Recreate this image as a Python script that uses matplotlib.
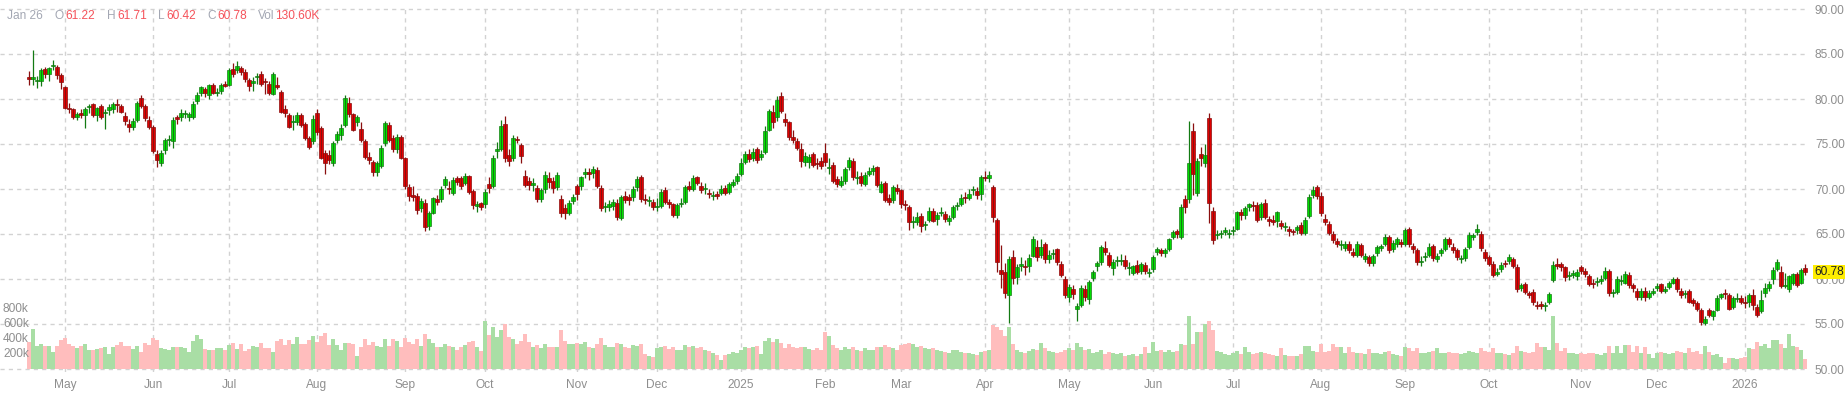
import numpy as np
import matplotlib
matplotlib.use("Agg")
import matplotlib.pyplot as plt
import matplotlib.transforms as mtransforms

plt.rcParams['font.family'] = ['Liberation Sans', 'DejaVu Sans']

# daily candles, Apr 18 2024 .. Jan 26 2026 (one row per month)
opens = [
    82.4, 82.2, 82.0, 82.0, 83.3, 82.8, 83.7, 83.6, 82.7,
    81.3, 79.0, 78.9, 78.0, 78.5, 78.2, 79.1, 79.4, 78.2, 79.2, 78.4, 78.8, 78.9, 79.4, 79.2, 78.1, 77.2, 76.9, 77.7, 80.1, 79.2, 77.7,
    76.9, 73.9, 72.9, 74.3, 75.4, 75.3, 78.0, 78.0, 78.3, 78.0, 78.0, 79.8, 80.7, 81.1, 80.4, 81.6, 80.7, 80.9, 81.7,
    81.6, 83.3, 83.2, 83.4, 83.0, 82.1, 81.8, 82.4, 82.8, 82.0, 81.7, 80.6, 81.6, 80.8, 78.9, 78.2, 77.4, 77.4, 78.2, 77.2, 75.7, 75.3,
    78.4, 76.8, 74.0, 73.8, 72.9, 75.4, 76.0, 77.1, 79.6, 78.3, 77.5, 76.7, 75.3, 73.6, 73.0, 71.9, 72.6, 75.1, 77.1, 75.7, 74.4, 75.8,
    73.4, 70.2, 69.3, 69.2, 67.9, 68.5, 65.9, 67.3, 68.9, 68.9, 70.4, 70.1, 69.6, 71.2, 71.2, 70.7, 71.4, 69.8, 68.1, 68.4,
    68.3, 70.5, 70.3, 74.2, 74.4, 77.2, 73.8, 73.4, 75.6, 74.9, 71.4, 70.9, 70.5, 70.1, 68.9, 70.0, 71.2, 70.9, 70.2, 68.9, 67.9, 67.3, 68.7,
    70.3, 70.3, 71.7, 71.9, 71.8, 72.1, 70.1, 68.0, 68.0, 68.1, 68.5, 66.8, 69.2, 69.1, 69.1, 70.2, 71.3, 68.9, 68.7, 68.6,
    68.0, 68.1, 69.9, 68.6, 68.3, 67.1, 68.3, 68.6, 70.3, 70.0, 71.3, 70.3, 70.0, 69.6, 69.2, 69.4, 69.6, 70.1, 69.7, 70.5, 70.9,
    71.7, 73.0, 73.9, 73.4, 74.4, 73.6, 74.1, 76.6, 78.6, 78.0, 80.3, 77.8, 77.4, 75.8, 75.3, 74.4, 73.0, 73.0, 73.9, 72.9, 73.1,
    74.0, 72.3, 72.7, 71.1, 70.5, 70.9, 72.4, 73.1, 71.2, 71.4, 70.6, 71.7, 72.0, 72.4, 69.7, 70.7, 69.0, 68.8, 70.1,
    69.9, 68.3, 68.0, 66.3, 66.3, 67.0, 66.0, 66.6, 67.6, 66.7, 67.3, 67.2, 66.5, 66.9, 68.1, 68.3, 69.1, 69.0, 69.9, 69.8, 69.4,
    71.3, 71.2, 70.2, 66.6, 61.0, 60.8, 58.2, 62.5, 60.2, 61.5, 61.5, 61.5, 62.6, 63.5, 62.7, 63.9, 62.2, 62.8, 63.3, 61.7, 60.0,
    58.0, 58.9, 56.7, 57.1, 58.9, 57.8, 60.1, 61.4, 61.9, 63.5, 62.7, 61.2, 62.0, 62.0, 62.1, 61.2, 60.7, 61.6, 60.9, 61.6, 60.7,
    61.1, 63.0, 63.2, 62.9, 63.3, 64.7, 65.3, 64.7, 68.9, 68.9, 76.4, 69.6, 73.9, 72.9, 77.9, 67.6, 64.9, 65.0, 65.2, 65.0,
    65.3, 65.6, 67.4, 67.1, 68.0, 68.2, 68.2, 66.9, 68.5, 66.7, 66.6, 66.5, 66.2, 65.8, 65.6, 65.3, 65.4, 66.0, 65.1, 67.0, 69.3, 70.2,
    69.2, 66.7, 66.1, 65.0, 64.2, 63.8, 63.4, 63.9, 63.0, 62.7, 63.8, 62.2, 62.4, 61.8, 62.9, 63.5, 63.9, 64.7, 63.3, 63.9, 64.1,
    63.9, 65.5, 63.7, 63.2, 61.9, 62.4, 62.7, 63.7, 62.2, 62.9, 63.3, 64.4, 63.6, 63.2, 62.2, 62.3, 63.6, 64.7, 65.2, 65.0, 63.0,
    62.4, 61.7, 60.6, 61.1, 61.8, 62.0, 62.2, 61.3, 59.0, 59.4, 58.4, 58.6, 57.1, 57.2, 57.0, 57.4, 59.9, 61.7, 61.7, 61.3, 60.3, 60.5, 60.3,
    61.3, 60.9, 60.3, 59.6, 59.7, 59.8, 60.1, 60.9, 58.4, 58.6, 59.8, 59.6, 60.5, 59.3, 58.7, 58.0, 58.7, 58.0, 58.5,
    59.0, 59.4, 58.7, 59.1, 59.6, 60.0, 58.7, 58.3, 58.7, 57.7, 57.3, 56.6, 55.1, 56.6, 55.9, 56.6, 58.0, 58.4, 58.2, 56.9, 57.8, 57.9,
    57.4, 57.4, 58.2, 56.9, 56.4, 58.4, 59.0, 60.0, 61.1, 60.8, 59.2, 58.9, 59.6, 60.6, 59.6, 61.22,
]
highs = [
    83.1, 85.5, 82.6, 83.4, 83.6, 83.6, 84.3, 83.8, 82.9,
    81.5, 79.6, 79.0, 78.6, 78.9, 79.1, 79.4, 79.6, 79.1, 79.4, 78.9, 79.4, 79.7, 80.0, 79.4, 78.6, 77.8, 77.9, 79.8, 80.5, 79.4, 78.1,
    77.1, 74.3, 74.3, 75.7, 76.0, 78.0, 78.2, 78.9, 78.8, 78.6, 79.8, 80.8, 81.5, 81.3, 81.7, 81.8, 81.2, 81.8, 82.0,
    83.5, 84.0, 84.2, 83.7, 83.3, 82.3, 82.4, 82.9, 83.1, 82.3, 82.0, 83.0, 82.5, 81.0, 79.3, 78.4, 78.2, 78.6, 78.4, 77.5, 75.9, 78.2,
    78.9, 77.0, 74.3, 74.3, 75.3, 76.5, 77.2, 80.4, 80.2, 78.5, 78.2, 77.4, 75.6, 74.1, 73.2, 73.1, 74.9, 77.6, 77.4, 76.0, 76.1, 76.0,
    73.6, 70.6, 70.3, 69.6, 69.0, 68.9, 67.6, 69.1, 69.3, 70.3, 71.5, 70.9, 71.3, 71.5, 71.4, 71.8, 71.6, 70.0, 68.7, 68.6,
    70.0, 71.3, 73.8, 75.2, 77.7, 78.1, 74.4, 76.0, 75.9, 75.1, 72.1, 71.3, 71.2, 70.5, 70.1, 72.0, 71.9, 71.3, 71.9, 69.3, 68.3, 68.8, 69.5,
    70.6, 71.5, 72.3, 72.3, 72.6, 72.4, 70.4, 68.6, 68.8, 68.9, 68.9, 69.3, 69.8, 69.5, 70.3, 71.5, 71.6, 69.4, 69.2, 68.9,
    69.0, 70.0, 70.2, 68.9, 68.5, 68.5, 69.0, 70.5, 70.9, 71.6, 71.5, 70.8, 70.7, 70.0, 69.8, 69.8, 70.4, 70.5, 70.8, 71.1, 71.8,
    73.4, 74.2, 74.5, 74.6, 74.7, 74.3, 77.0, 78.9, 79.3, 80.3, 80.8, 78.4, 77.6, 76.6, 75.7, 75.1, 74.1, 73.9, 74.1, 73.5, 73.6,
    75.1, 73.4, 73.0, 71.5, 71.4, 72.4, 73.6, 73.4, 72.0, 71.9, 71.9, 72.4, 72.7, 72.6, 70.9, 70.9, 69.4, 70.4, 70.6,
    70.0, 68.8, 68.2, 67.0, 67.4, 67.3, 66.5, 68.0, 67.9, 67.4, 68.0, 67.6, 67.1, 68.2, 68.6, 69.4, 69.7, 70.0, 70.3, 70.2, 71.6,
    72.0, 72.0, 70.4, 66.8, 63.8, 61.8, 62.6, 63.2, 61.7, 62.4, 62.1, 62.8, 64.8, 64.3, 64.4, 64.1, 63.2, 63.3, 63.5, 62.0, 60.3,
    59.4, 59.3, 57.3, 59.3, 59.3, 59.9, 61.0, 62.0, 63.8, 64.2, 63.0, 62.2, 62.6, 62.8, 62.7, 61.9, 61.6, 62.1, 61.9, 61.9, 61.2,
    62.7, 63.6, 63.5, 63.5, 64.6, 65.5, 65.6, 68.3, 69.3, 77.6, 77.3, 73.5, 74.7, 75.0, 78.4, 68.0, 65.4, 65.5, 65.8, 65.6,
    65.9, 67.6, 67.8, 68.1, 68.5, 68.7, 68.6, 68.6, 68.9, 67.0, 67.1, 67.6, 66.6, 66.3, 65.9, 65.6, 66.0, 66.3, 66.9, 69.4, 70.3, 70.5,
    69.7, 67.2, 66.4, 65.3, 64.6, 64.3, 64.2, 64.2, 63.4, 64.2, 64.0, 62.9, 62.7, 62.8, 63.8, 63.9, 65.0, 64.9, 64.3, 64.7, 64.4,
    65.7, 65.8, 64.0, 63.4, 62.6, 63.0, 64.0, 63.9, 62.9, 63.5, 64.7, 64.7, 64.0, 63.4, 62.7, 63.6, 65.2, 65.1, 66.1, 65.3, 63.3,
    62.7, 62.0, 61.2, 61.9, 62.1, 62.8, 62.5, 61.7, 59.6, 59.7, 58.7, 58.9, 57.6, 57.6, 57.5, 58.6, 62.0, 62.3, 61.9, 61.5, 60.9, 61.0, 61.1,
    61.6, 61.2, 60.6, 60.0, 60.2, 60.4, 61.3, 61.1, 58.9, 60.3, 60.4, 60.9, 60.8, 59.6, 59.0, 59.0, 59.1, 58.8, 59.0,
    59.6, 59.6, 59.2, 59.8, 60.2, 60.2, 59.0, 58.8, 58.9, 57.9, 57.6, 56.8, 55.9, 56.8, 56.6, 58.2, 58.4, 58.9, 58.5, 58.1, 58.4, 58.2,
    58.1, 58.5, 58.9, 57.2, 58.8, 59.6, 59.8, 61.3, 62.2, 61.4, 60.7, 60.4, 60.7, 60.8, 61.2, 61.71,
]
lows = [
    81.6, 81.6, 81.2, 81.4, 82.3, 82.0, 83.2, 82.2, 81.1,
    78.9, 78.4, 77.8, 77.7, 77.9, 76.8, 78.5, 78.0, 77.6, 77.8, 76.7, 78.2, 78.5, 78.6, 78.4, 77.1, 76.3, 76.6, 77.4, 79.0, 77.6, 76.7,
    74.0, 72.5, 72.6, 73.9, 74.8, 74.6, 77.2, 77.6, 77.9, 77.6, 77.8, 79.4, 80.3, 80.2, 80.0, 80.6, 80.3, 80.6, 81.3,
    81.4, 82.4, 82.9, 82.7, 81.9, 80.9, 80.9, 81.7, 81.5, 80.6, 80.4, 80.4, 81.1, 78.4, 78.0, 76.8, 76.6, 77.1, 76.9, 75.5, 74.4, 75.0,
    76.0, 73.3, 71.7, 72.8, 72.6, 75.1, 75.5, 76.9, 78.0, 76.4, 77.0, 75.2, 73.3, 72.8, 71.5, 71.5, 72.3, 74.8, 75.2, 74.1, 74.0, 73.3,
    70.0, 68.7, 68.7, 67.2, 67.5, 65.3, 65.5, 67.2, 68.2, 68.6, 70.1, 69.5, 69.3, 70.5, 70.0, 70.4, 69.5, 67.8, 67.5, 67.7,
    67.9, 69.6, 70.1, 73.4, 74.2, 73.0, 72.6, 73.1, 75.1, 72.9, 70.2, 69.9, 69.8, 68.6, 68.6, 69.6, 70.1, 69.6, 69.9, 66.9, 66.7, 67.1, 68.3,
    68.8, 69.9, 71.2, 71.0, 71.2, 70.1, 67.6, 67.4, 67.6, 67.7, 66.6, 66.6, 68.5, 68.2, 68.7, 69.8, 68.6, 68.3, 68.1, 67.7,
    67.6, 67.9, 68.3, 67.9, 66.9, 66.8, 68.0, 68.3, 69.8, 69.8, 70.4, 69.6, 69.4, 69.0, 68.8, 68.9, 69.3, 69.3, 69.5, 70.2, 70.6,
    71.5, 72.8, 73.0, 73.1, 72.9, 73.2, 73.9, 76.4, 76.8, 77.6, 78.5, 77.0, 75.5, 75.1, 74.3, 72.5, 72.6, 72.3, 72.5, 72.2, 72.2,
    72.6, 71.7, 70.7, 70.2, 70.2, 70.6, 72.1, 71.0, 70.6, 70.3, 70.3, 71.4, 71.6, 70.2, 69.6, 68.6, 68.2, 68.5, 69.4,
    67.9, 67.7, 65.5, 65.7, 66.0, 65.2, 65.4, 66.3, 66.3, 66.0, 67.0, 66.3, 66.0, 66.7, 67.7, 68.1, 68.5, 68.8, 69.3, 68.9, 68.8,
    70.9, 70.8, 66.3, 60.8, 59.0, 57.9, 55.1, 59.4, 59.4, 60.9, 60.5, 60.8, 62.4, 62.0, 62.3, 61.8, 61.8, 62.2, 61.6, 60.2, 57.9,
    57.5, 57.8, 55.3, 56.9, 57.6, 57.2, 59.8, 60.9, 61.6, 62.7, 61.3, 60.5, 61.5, 61.6, 61.1, 60.5, 60.4, 60.6, 60.6, 60.6, 60.2,
    60.8, 62.7, 62.6, 62.5, 63.1, 64.5, 64.6, 64.5, 67.3, 68.4, 69.3, 69.2, 72.6, 72.4, 66.2, 63.9, 64.4, 64.6, 64.9, 64.6,
    64.9, 65.4, 66.6, 66.7, 67.6, 67.6, 66.3, 66.6, 66.7, 65.9, 66.0, 65.8, 65.6, 65.3, 64.8, 64.9, 65.0, 64.9, 64.9, 66.8, 69.0, 68.9,
    67.0, 66.0, 64.9, 64.0, 63.6, 63.2, 63.1, 62.9, 62.4, 62.5, 62.5, 61.9, 61.5, 61.5, 62.6, 63.1, 63.7, 62.9, 63.0, 63.6, 63.6,
    63.7, 63.6, 62.9, 61.6, 61.5, 62.0, 62.5, 62.0, 61.9, 62.6, 63.1, 63.6, 62.9, 62.1, 61.8, 62.0, 63.3, 64.3, 64.9, 63.1, 62.0,
    61.5, 60.2, 60.3, 60.8, 61.3, 61.7, 61.2, 58.6, 58.7, 58.3, 57.9, 57.1, 56.7, 56.7, 56.4, 57.2, 59.7, 61.1, 60.9, 59.8, 59.9, 60.1, 59.9,
    60.6, 60.2, 59.2, 59.0, 59.2, 59.5, 59.9, 58.1, 58.0, 58.3, 59.3, 59.4, 59.0, 58.6, 57.7, 57.7, 57.6, 57.8, 58.2,
    58.7, 58.5, 58.4, 58.9, 59.4, 58.6, 57.9, 57.9, 57.3, 57.0, 56.4, 54.9, 54.9, 55.8, 55.5, 56.4, 57.8, 57.8, 56.6, 56.7, 57.4, 57.2,
    56.8, 56.9, 56.6, 55.8, 56.2, 58.0, 58.7, 59.5, 60.9, 59.0, 59.0, 58.6, 59.3, 59.1, 59.4, 60.42,
]
closes = [
    82.2, 82.4, 82.1, 83.2, 82.8, 83.4, 83.8, 82.7, 81.9,
    79.0, 78.9, 78.0, 78.3, 78.2, 78.9, 79.2, 78.2, 79.0, 78.0, 78.5, 79.1, 79.4, 79.3, 78.6, 77.6, 76.9, 77.6, 79.6, 79.2, 77.9, 76.9,
    74.2, 73.2, 74.0, 75.4, 75.5, 77.7, 77.8, 78.4, 78.5, 78.3, 79.5, 80.5, 81.3, 80.7, 81.6, 80.7, 80.7, 81.6, 81.5,
    83.2, 82.8, 83.7, 83.0, 82.2, 81.4, 82.0, 82.5, 81.7, 81.9, 80.7, 82.8, 81.3, 78.6, 78.4, 76.9, 77.4, 78.2, 77.1, 75.7, 74.7, 77.8,
    76.3, 73.5, 72.9, 73.2, 75.1, 76.1, 76.8, 80.1, 78.3, 76.6, 78.0, 75.5, 73.6, 73.2, 71.9, 72.9, 74.6, 77.3, 75.4, 74.5, 75.8, 73.5,
    70.3, 69.2, 69.1, 67.7, 68.7, 65.8, 67.3, 69.0, 68.6, 70.0, 71.1, 70.0, 71.0, 70.8, 70.3, 71.4, 69.7, 68.2, 68.3, 68.0,
    69.7, 70.1, 73.5, 74.5, 77.0, 73.5, 73.1, 75.7, 75.4, 73.7, 70.5, 70.4, 70.5, 68.9, 69.9, 71.6, 70.8, 70.1, 71.6, 67.3, 67.3, 68.4, 69.1,
    69.4, 71.3, 71.9, 71.7, 72.2, 70.3, 67.9, 68.0, 68.3, 68.5, 66.9, 69.1, 68.8, 68.8, 70.0, 71.1, 68.9, 68.8, 68.7, 68.0,
    68.1, 69.7, 68.6, 68.3, 67.1, 68.2, 68.5, 70.2, 70.0, 71.2, 70.7, 69.9, 70.0, 69.4, 69.2, 69.2, 70.0, 69.6, 70.5, 70.8, 71.5,
    72.9, 73.9, 73.3, 74.1, 73.2, 73.9, 76.4, 78.7, 77.4, 79.9, 78.7, 77.4, 75.8, 75.4, 74.6, 73.1, 73.7, 73.6, 72.7, 72.8, 72.6,
    73.0, 72.5, 70.9, 70.6, 70.9, 72.2, 73.2, 71.3, 71.2, 70.7, 71.6, 72.0, 72.3, 70.4, 70.6, 68.8, 68.6, 70.2, 69.8,
    68.3, 68.2, 66.3, 66.3, 66.9, 65.9, 66.0, 67.6, 66.5, 67.1, 67.4, 66.7, 66.8, 68.0, 68.2, 69.0, 69.0, 69.5, 69.9, 69.3, 71.3,
    71.2, 71.6, 66.9, 61.9, 60.6, 58.4, 62.2, 60.1, 61.3, 61.5, 61.3, 62.3, 64.5, 62.4, 63.5, 62.2, 62.7, 62.9, 61.9, 60.4, 58.2,
    59.1, 58.3, 57.0, 59.0, 58.0, 59.7, 60.8, 61.8, 63.5, 63.0, 61.6, 61.9, 62.0, 62.0, 61.5, 61.2, 61.4, 60.8, 61.7, 60.9, 60.7,
    62.4, 63.3, 62.9, 63.2, 64.4, 65.2, 65.0, 68.0, 68.0, 72.9, 71.7, 73.1, 73.4, 73.8, 68.5, 64.3, 64.9, 65.0, 65.4, 65.0,
    65.4, 67.4, 67.1, 67.9, 68.3, 68.1, 66.6, 68.3, 66.9, 66.5, 66.3, 67.4, 65.9, 65.8, 65.3, 65.2, 65.8, 65.1, 66.6, 69.1, 69.9, 69.2,
    67.3, 66.3, 65.1, 64.3, 63.9, 63.8, 63.9, 63.2, 62.7, 63.9, 62.7, 62.6, 61.8, 62.6, 63.5, 63.6, 64.7, 63.2, 64.0, 64.4, 63.9,
    65.4, 63.9, 63.3, 61.9, 62.0, 62.6, 63.6, 62.3, 62.6, 63.2, 64.4, 63.9, 63.2, 62.4, 62.2, 63.3, 64.9, 64.9, 65.5, 63.4, 62.3,
    61.7, 60.4, 60.8, 61.6, 61.7, 62.4, 61.5, 58.9, 59.3, 58.6, 58.2, 57.4, 57.0, 57.0, 57.0, 58.3, 61.6, 61.4, 61.3, 60.2, 60.4, 60.6, 60.8,
    60.9, 60.6, 59.5, 59.4, 59.7, 60.0, 60.9, 58.4, 58.5, 60.0, 59.8, 60.6, 59.3, 59.0, 58.0, 58.7, 58.0, 58.5, 58.5,
    59.2, 58.7, 58.9, 59.6, 60.0, 58.9, 58.2, 58.3, 57.5, 57.3, 56.7, 55.2, 55.6, 56.0, 56.4, 57.9, 58.3, 58.3, 56.7, 57.9, 57.8, 57.4,
    57.3, 58.2, 57.1, 56.0, 57.7, 59.0, 59.4, 61.0, 61.9, 59.2, 59.2, 60.3, 60.6, 59.3, 61.0, 60.78,
]
# volume in thousands
volumes = [
    356, 533, 302, 338, 311, 302, 222, 311, 382,
    418, 338, 302, 276, 311, 338, 249, 258, 271, 284, 293, 204, 293, 324, 356, 302, 311, 271, 311, 231, 347, 324,
    418, 391, 280, 267, 258, 293, 293, 293, 280, 222, 378, 458, 404, 267, 249, 258, 280, 280, 249,
    320, 347, 267, 338, 236, 271, 311, 293, 347, 276, 284, 227, 373, 400, 320, 387, 338, 427, 338, 338, 391, 444,
    360, 444, 480, 324, 404, 316, 249, 347, 347, 338, 178, 293, 404, 320, 364, 311, 298, 396, 302, 396, 380, 300,
    420, 360, 330, 400, 310, 470, 400, 350, 300, 290, 330, 310, 300, 250, 290, 320, 360, 380, 300, 240,
    640, 450, 560, 430, 520, 600, 430, 400, 340, 380, 470, 360, 300, 320, 280, 330, 300, 290, 300, 520, 370, 340, 330,
    350, 330, 360, 300, 280, 330, 420, 320, 300, 290, 350, 330, 300, 280, 320, 310, 330, 200, 180, 160,
    280, 300, 310, 270, 290, 260, 250, 320, 290, 310, 280, 300, 250, 240, 210, 190, 120, 190, 200, 230, 210,
    260, 300, 280, 300, 310, 200, 380, 420, 360, 400, 350, 280, 330, 300, 280, 290, 300, 270, 260, 280, 250,
    490, 440, 320, 280, 260, 290, 270, 300, 250, 240, 280, 260, 250, 300, 290, 320, 300, 280, 250,
    320, 330, 350, 340, 300, 310, 280, 270, 280, 250, 240, 230, 220, 260, 250, 230, 220, 210, 200, 190, 230,
    240, 260, 590, 560, 520, 440, 560, 340, 260, 230, 220, 240, 270, 250, 350, 280, 240, 230, 220, 230, 260,
    280, 250, 350, 300, 260, 270, 220, 230, 250, 200, 230, 220, 200, 210, 180, 190, 200, 170, 200, 300, 220,
    360, 240, 260, 230, 250, 230, 240, 330, 320, 705, 330, 490, 500, 600, 640, 520, 240, 230, 200, 190,
    220, 240, 200, 300, 230, 200, 220, 230, 210, 200, 190, 180, 276, 190, 180, 170, 180, 200, 307, 307, 240, 230,
    333, 230, 240, 333, 289, 298, 220, 289, 230, 220, 210, 200, 270, 220, 210, 200, 230, 240, 200, 190, 180,
    298, 276, 240, 276, 220, 210, 230, 240, 285, 220, 210, 230, 220, 210, 200, 220, 240, 230, 220, 276, 240,
    230, 276, 220, 210, 200, 190, 220, 307, 240, 230, 220, 230, 350, 298, 298, 250, 707, 350, 240, 285, 220, 210, 200,
    210, 200, 220, 210, 200, 190, 220, 307, 210, 307, 220, 316, 316, 230, 307, 220, 290, 200, 150,
    220, 230, 210, 200, 220, 240, 230, 220, 276, 230, 240, 200, 307, 231, 187, 200, 164, 84, 151, 151, 129, 142,
    164, 276, 267, 364, 307, 333, 276, 387, 387, 333, 276, 462, 307, 289, 253, 130.6,
]
month_start = [9, 31, 50, 72, 94, 114, 137, 157, 178, 199, 218, 239, 260, 281, 301, 323, 344, 365, 388, 407, 429]
month_labels = ["May", "Jun", "Jul", "Aug", "Sep", "Oct", "Nov", "Dec", "2025", "Feb", "Mar", "Apr",
                "May", "Jun", "Jul", "Aug", "Sep", "Oct", "Nov", "Dec", "2026"]
last_date = "Jan 26"
price_ticks = [50, 55, 60, 65, 70, 75, 80, 85, 90]
vol_ticks = [200, 400, 600, 800]

o = np.array(opens); h = np.array(highs); l = np.array(lows); c = np.array(closes)
v = np.array(volumes)
assert len(o) == len(h) == len(l) == len(c) == len(v) == 445
x = np.arange(len(c))
up = c >= o

W, H = 1849, 394
fig = plt.figure(figsize=(W / 100, H / 100), dpi=100)
rect = [0, 22 / H, 1808 / W, 364 / H]
grey = '#8e8e8e'

axg = fig.add_axes(rect)
# volume layer (twin of the price axes)
axv = axg.twinx()

axg.set_xlim(-7.25, 444.75)
axg.set_ylim(50 - 3 / 9, 50 + 361 / 9)
axg.set_xticks(month_start)
axg.set_xticklabels(month_labels)
axg.set_yticks(price_ticks)
axg.set_yticklabels([f'{t:.2f}' for t in price_ticks])
axg.yaxis.tick_right()
axg.tick_params(axis='both', length=0, labelsize=8.6, colors=grey)
axg.tick_params(axis='x', pad=5)
axg.tick_params(axis='y', pad=5, labelleft=False, labelright=True)
axg.grid(True, color='#d2d2d2', linestyle=(0, (3, 3)), linewidth=1)
for s in axg.spines.values():
    s.set_visible(False)

axv.set_ylim(-40, (369 - 8) / 15 * 200)
axv.bar(x, v, width=0.98, color=np.where(up, '#a9dea5', '#ffbdbd'), linewidth=0)
axv.set_yticks([])
axv.tick_params(axis='y', length=0, labelleft=False, labelright=False)
axv.patch.set_visible(False)
for s in axv.spines.values():
    s.set_visible(False)
vt = mtransforms.blended_transform_factory(axv.transAxes, axv.transData)
for t in vol_ticks:
    axv.text(3 / 1808, t, f'{t}k', transform=vt, ha='left', va='center',
             fontsize=8.6, color=grey)

# candle layer
axc = fig.add_axes(rect, sharex=axg, sharey=axg)
axc.axis('off')
axc.patch.set_visible(False)
axc.vlines(x[up], l[up], h[up], color='#137a13', linewidth=0.9)
axc.vlines(x[~up], l[~up], h[~up], color='#8a0f0f', linewidth=0.9)
body_lo = np.minimum(o, c)
body_h = np.maximum(np.abs(c - o), 0.12)
axc.bar(x, body_h, bottom=body_lo, width=0.82,
        color=np.where(up, '#00ee00', '#ee0000'),
        edgecolor=np.where(up, '#0d6a0d', '#7a0000'), linewidth=0.45)

axg.set_zorder(0)
axv.set_zorder(1)
axc.set_zorder(2)

# last price tag
axc.annotate(f'{c[-1]:.2f}', xy=(1, c[-1]), xycoords=('axes fraction', 'data'),
             xytext=(4.5, 0), textcoords='offset points', va='center', ha='left',
             fontsize=8.6, color='#222222', annotation_clip=False,
             bbox=dict(boxstyle='square,pad=0.12', fc='#ffee00', ec='none'))

# header line
lab = '#a3a7b3'
val = '#f5525a'
y0 = 1 - 16 / H
parts = [(7, last_date, lab), (55, 'O', lab), (65, f'{o[-1]:.2f}', val),
         (107, 'H', lab), (117, f'{h[-1]:.2f}', val),
         (158, 'L', lab), (166, f'{l[-1]:.2f}', val),
         (207, 'C', lab), (217, f'{c[-1]:.2f}', val),
         (258, 'Vol', lab), (275, f'{v[-1]:.2f}K', val)]
for px, s, col in parts:
    fig.text(px / W, y0, s, ha='left', va='center', fontsize=8.6, color=col)

fig.savefig('out.png', dpi=100)
